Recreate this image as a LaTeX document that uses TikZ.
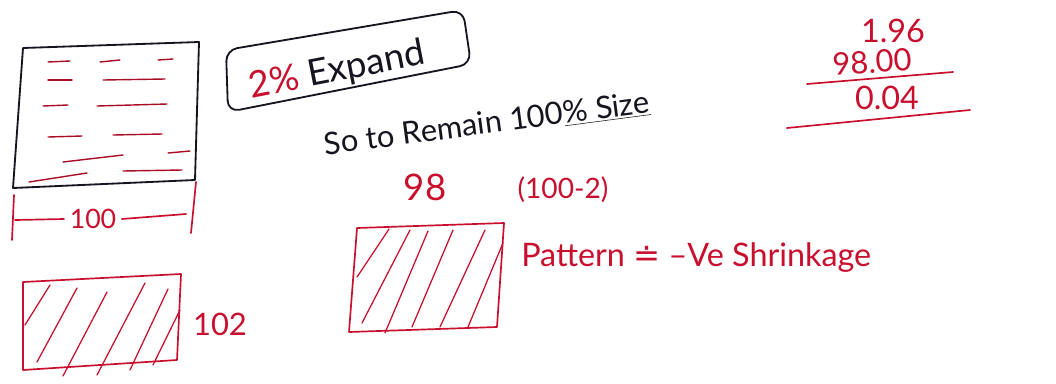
\documentclass[tikz,border=0pt]{standalone}
\usepackage{fontspec}
\setmainfont{Lato}
\newfontfamily\symfont{DejaVu Sans}
\usetikzlibrary{positioning}
\definecolor{pen}{HTML}{C8102E}
\definecolor{ink}{HTML}{15151F}
\tikzset{
  inkline/.style={draw=ink,line width=1.3pt,line cap=round,line join=round},
  penline/.style={draw=pen,line width=1.2pt,line cap=round,line join=round},
  hatchline/.style={draw=pen,line width=0.9pt,line cap=round},
  dashline/.style={draw=pen!85!black,line width=1pt,line cap=round},
  hand/.style={inner sep=0pt,font=\fontsize{#1}{#1}\selectfont}
}

\begin{document}
\begin{tikzpicture}[x=0.025cm,y=-0.025cm]
  \useasboundingbox (0,0) rectangle (1056,383);
  % sheet with 100 width
  \draw[inkline] (23,48)--(199,42)--(195,180)--(13,188)--cycle;
  \foreach \xa/\ya/\xb/\yb in {48/62/70/61,100/62/120/60,158/60/173/59,48/80/72/80,103/80/165/79,
      43/106/68/105,97/106/167/104,48/137/82/136,113/135/162/134,63/162/123/155,168/153/190/151,
      29/182/87/173,123/171/182/170}
    \draw[dashline] (\xa,\ya)--(\xb,\yb);
  \node[hand=19,text=pen,outer sep=4pt] (w100) at (93,219) {100};
  \coordinate (dimL) at (15,220);
  \coordinate (dimR) at (186,214);
  \draw[penline] (14,195)--(12,240);
  \draw[penline] (196,182)--(191,233);
  \draw[penline] (dimL)--(w100.west);
  \draw[penline] (w100.east)--(dimR);
  % boxed note
  \draw[inkline,rounded corners=8pt] (226,50)--(463,10)--(471,64)--(228,112)--cycle;
  \node[hand=26,rotate=11,text=ink] (expand) at (337,71) {{\color{pen}2\%} Expand};
  \node[hand=22,rotate=7.5,text=ink] (remain) at (487,124) {So to Remain 100\underline{\% Size}};
  % subtraction
  \node[hand=23,text=pen] (s1) at (893,31) {1.96};
  \node[hand=22,text=pen,rotate=4] (s2) at (872,62) {98.00};
  \node[hand=23,text=pen] (s3) at (887,98) {0.04};
  \coordinate (r1a) at (807,84);
  \coordinate (r1b) at (953,72);
  \coordinate (r2a) at (787,128);
  \coordinate (r2b) at (970,110);
  \draw[penline] (r1a)--(r1b);
  \draw[penline] (r2a)--(r2b);
  % pattern 102
  \draw[penline] (23,282)--(181,274)--(177,360)--(23,370)--cycle;
  \foreach \xa/\ya/\xb/\yb in {25/325/50/285,37/362/77/288,63/376/107/292,97/375/145/283,
      130/370/168/289,153/365/180/310}
    \draw[hatchline] (\xa,\ya)--(\xb,\yb);
  \node[hand=22,text=pen] (w102) at (220,324) {102};
  % pattern 98
  \draw[penline] (357,228)--(504,223)--(497,327)--(349,332)--cycle;
  \foreach \xa/\ya/\xb/\yb in {357/277/389/229,362/323/410/230,385/333/428/231,412/327/453/230,
      440/327/485/230,468/327/503/243}
    \draw[hatchline] (\xa,\ya)--(\xb,\yb);
  \node[hand=26,text=pen] (w98) at (425,187) {98};
  \node[hand=20,text=pen] (calc) at (563,190) {(100-2)};
  \node[hand=23,text=pen,anchor=west] (shrink) at (521,258) {Pattern {\symfont ≐} –Ve Shrinkage};
\end{tikzpicture}
\end{document}
